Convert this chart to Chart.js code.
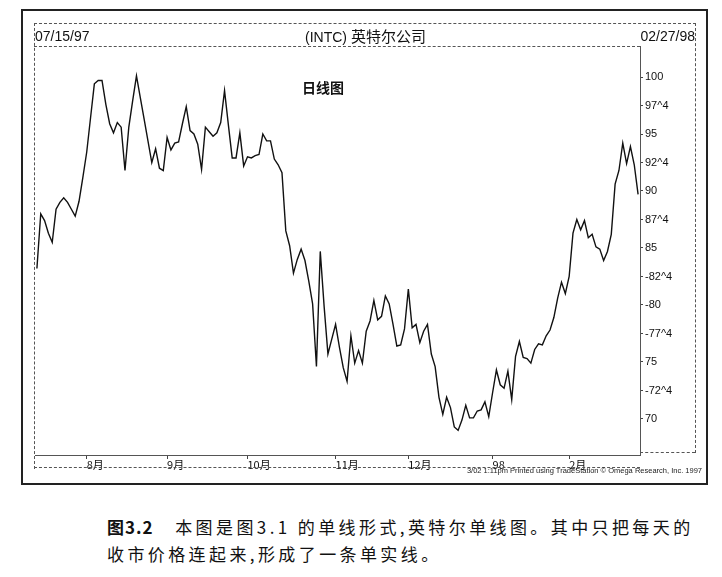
<!DOCTYPE html>
<html lang="zh">
<head>
<meta charset="UTF-8">
<title>(INTC) 英特尔公司 日线图</title>
<script src="https://cdn.jsdelivr.net/npm/chart.js"></script>
<style>
    body { margin: 0; background: #fff; font-family: "Liberation Sans", Arial, sans-serif; color: #111; }
    #lienzo { position: relative; width: 722px; height: 577px; overflow: hidden; background: #fff; }
    #grafico { position: absolute; left: 0; top: 0; }
    .marco { position: absolute; left: 21px; top: 9px; width: 683px; height: 472px; border: 2px solid #222; }
    .raya-h { position: absolute; height: 0; border-top: 1px dashed #555; }
    .raya-v { position: absolute; width: 0; border-left: 1px dashed #555; }
    .cab { position: absolute; top: 27px; font-size: 14px; line-height: 18px; }
    #titulo-grafico { position: absolute; left: 302px; top: 77px; font: bold 14px "Noto Sans CJK SC", sans-serif; }
    #impreso { position: absolute; right: 20px; top: 466px; font-size: 7.5px; white-space: nowrap; color: #222; }
    .pie { position: absolute; left: 107px; font: 17px "Noto Sans CJK SC", serif; letter-spacing: 3.4px; white-space: nowrap; }
    .pie b { letter-spacing: 1px; }
</style>
</head>
<body>
<div id="lienzo">
    <canvas id="grafico" width="722" height="500"></canvas>

    <div class="marco"></div>
    <div class="raya-h" style="left:34px; top:23px; width:662px;"></div>
    <div class="raya-h" style="left:34px; top:46px; width:606px;"></div>
    <div class="raya-v" style="left:34px; top:23px; height:446px;"></div>
    <div class="raya-v" style="left:695px; top:23px; height:430px;"></div>
    <div class="raya-h" style="left:640px; top:452px; width:55px;"></div>
    <div class="raya-h" style="left:34px; top:467px; width:606px;"></div>

    <div class="cab" style="left:35px;">07/15/97</div>
    <div class="cab" style="left:305px;">(INTC) <span style="font-family:'Noto Sans CJK SC'; font-size:15px;">英特尔公司</span></div>
    <div class="cab" style="right:27px;">02/27/98</div>
    <div id="titulo-grafico">日线图</div>
    <div id="impreso">3/02 1:11pm Printed using TradeStation © Omega Research, Inc. 1997</div>

    <div class="pie" style="top:514px;"><b>图3.2</b>&nbsp;&nbsp; 本图是图3.1 的单线形式,英特尔单线图。其中只把每天的</div>
    <div class="pie" style="top:541px;">收市价格连起来,形成了一条单实线。</div>
</div>

<script>
    // cierres diarios INTC, 15/07/1997 - 27/02/1998
    const cierres = [
        83.2, 88.0, 87.4, 86.3, 85.5, 88.4, 89.0, 89.4, 89.0, 88.4,
        87.8, 89.1, 91.2, 93.4, 96.4, 99.4, 99.7, 99.7, 97.6, 95.9,
        95.1, 96.0, 95.6, 91.8, 95.6, 97.9, 100.1, 98.2, 96.3, 94.4,
        92.5, 93.7, 92.0, 91.8, 94.7, 93.6, 94.2, 94.3, 95.9, 97.4,
        95.3, 95.0, 94.1, 91.9, 95.6, 95.2, 94.8, 95.1, 96.0, 98.8,
        95.8, 92.9, 92.9, 95.1, 92.2, 93.0, 92.9, 93.1, 93.2, 95.0,
        94.4, 94.4, 92.8, 92.3, 91.6, 86.5, 85.2, 82.8, 84.0, 84.9,
        83.9, 82.1, 80.1, 74.6, 84.7, 79.9, 75.7, 77.0, 78.3, 76.3,
        74.5, 73.3, 77.3, 74.9, 76.0, 74.9, 77.7, 78.6, 80.4, 78.7,
        79.0, 80.8, 80.1, 78.3, 76.4, 76.5, 77.9, 81.4, 78.0, 78.3,
        76.7, 77.7, 78.3, 75.7, 74.6, 71.9, 70.4, 71.9, 71.0, 69.3,
        69.0, 69.9, 71.2, 70.1, 70.1, 70.7, 70.8, 71.5, 70.2, 72.3,
        74.3, 73.0, 72.7, 74.2, 71.7, 75.5, 76.8, 75.4, 75.3, 74.9,
        76.1, 76.6, 76.5, 77.3, 77.8, 78.9, 80.6, 82.0, 81.0, 82.5,
        86.3, 87.5, 86.6, 87.4, 85.9, 86.2, 85.1, 84.9, 83.9, 84.7,
        86.2, 90.6, 91.8, 94.2, 92.4, 93.9, 92.3, 89.7
    ];

    // primer dia de cotizacion de cada mes (indice en cierres)
    const inicioMes = [13, 34, 55, 78, 97, 119, 139];
    const etiquetasMes = ['8月', '9月', '10月', '11月', '12月', '98', '2月'];

    const valoresY = [100, 97.5, 95, 92.5, 90, 87.5, 85, 82.5, 80, 77.5, 75, 72.5, 70];
    const etiquetasY = ['100', '97^4', '95', '92^4', '90', '87^4', '85', '-82^4', '-80', '-77^4', '75', '-72^4', '70'];

    const ctx = document.getElementById('grafico').getContext('2d');

    new Chart(ctx, {
        type: 'line',
        data: {
            datasets: [{
                data: cierres.map((v, i) => ({ x: i, y: v })),
                borderColor: '#111',
                borderWidth: 1.4,
                pointRadius: 0,
                tension: 0,
                fill: false
            }]
        },
        options: {
            responsive: false,
            animation: false,
            layout: { padding: { left: 35, top: 46, right: 0, bottom: 25 } },
            plugins: {
                legend: { display: false },
                tooltip: { enabled: false }
            },
            scales: {
                x: {
                    type: 'linear',
                    min: -0.5,
                    max: 157.5,
                    afterBuildTicks: s => { s.ticks = inicioMes.map(v => ({ value: v })); },
                    afterFit: s => { s.height = 20; },
                    ticks: {
                        align: 'start',
                        autoSkip: false,
                        maxRotation: 0,
                        padding: -1,
                        color: '#111',
                        font: { family: '"Noto Sans CJK SC", "Liberation Sans"', size: 11 },
                        callback: v => etiquetasMes[inicioMes.indexOf(v)]
                    },
                    grid: { drawOnChartArea: false, tickLength: 4, color: '#444' },
                    border: { display: true, dash: [2, 2], color: '#555' }
                },
                y: {
                    position: 'right',
                    min: 66.84,
                    max: 102.72,
                    afterBuildTicks: s => { s.ticks = valoresY.map(v => ({ value: v })); },
                    afterFit: s => { s.width = 82; },
                    ticks: {
                        autoSkip: false,
                        padding: 2,
                        color: '#111',
                        font: { family: '"Liberation Sans", Arial', size: 11 },
                        callback: v => etiquetasY[valoresY.indexOf(v)]
                    },
                    grid: { drawOnChartArea: false, tickLength: 3, color: '#444' },
                    border: { display: true, dash: [2, 2], color: '#555' }
                }
            }
        }
    });
</script>
</body>
</html>
